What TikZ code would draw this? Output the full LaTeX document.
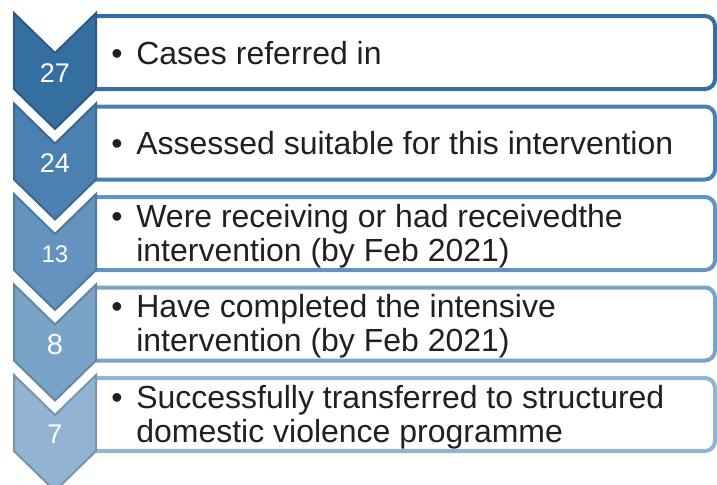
\documentclass[tikz,border=0pt]{standalone}
\usepackage{fontspec}
\setmainfont{Liberation Sans}
\definecolor{blueA}{RGB}{53,111,161}
\definecolor{blueB}{RGB}{74,129,176}
\definecolor{blueC}{RGB}{99,147,190}
\definecolor{blueD}{RGB}{122,163,200}
\definecolor{blueE}{RGB}{146,180,210}
\definecolor{textgray}{RGB}{35,31,32}
\tikzset{
  chevron/.style={fill=#1, draw=#1!82!black, line width=0.4mm, line join=miter},
  listbox/.style={fill=white, draw=#1, line width=0.8mm, rounded corners=2mm},
  itemtext/.style={anchor=base west, inner sep=0pt, align=left, text=textgray,
    font=\fontsize{18.2}{19.35}\selectfont},
  numtext/.style={anchor=base, inner sep=0pt, text=white,
    font=\fontsize{15.37}{18}\selectfont},
}
\newcommand{\bul}{\makebox[5mm][l]{•}}
\begin{document}
\begin{tikzpicture}[x=0.2mm,y=-0.2mm]
    \clip (0,0) rectangle (717,484);
    % boxes
    \draw [listbox=blueA] (95,16) -- (715,16) -- (715,89) -- (95,89);
    \draw [listbox=blueB] (95,106.5) -- (715,106.5) -- (715,179.5) -- (95,179.5);
    \draw [listbox=blueC] (95,197) -- (715,197) -- (715,270) -- (95,270);
    \draw [listbox=blueD] (95,287.5) -- (715,287.5) -- (715,360.5) -- (95,360.5);
    \draw [listbox=blueE] (95,378) -- (715,378) -- (715,451) -- (95,451);
    % chevrons
    \draw [chevron=blueA] (14,13) -- (55,53) -- (96,13) -- (96,89) -- (55,129) -- (14,89) -- cycle;
    \draw [chevron=blueB] (14,103.5) -- (55,143.5) -- (96,103.5) -- (96,179.5) -- (55,219.5) -- (14,179.5) -- cycle;
    \draw [chevron=blueC] (14,194) -- (55,234) -- (96,194) -- (96,270) -- (55,310) -- (14,270) -- cycle;
    \draw [chevron=blueD] (14,284.5) -- (55,324.5) -- (96,284.5) -- (96,360.5) -- (55,400.5) -- (14,360.5) -- cycle;
    \draw [chevron=blueE] (14,375) -- (55,415) -- (96,375) -- (96,451) -- (55,491) -- (14,451) -- cycle;
    % numbers
    \node [numtext] (n27) at (55,82) {27};
    \node [numtext] (n24) at (55,172.5) {24};
    \node [numtext, font=\fontsize{13.66}{16}\selectfont] (n13) at (55,262) {13};
    \node [numtext, font=\fontsize{16.5}{19}\selectfont] (n8) at (55,354) {8};
    \node [numtext] (n7) at (55,443) {7};
    % list texts (base = last line)
    \node [itemtext] (referred) at (111,64) {\bul Cases referred in};
    \node [itemtext] (assessed) at (111,154) {\bul Assessed suitable for this intervention};
    \node [itemtext] (receiving) at (111,261) {\bul Were receiving or had receivedthe\\\hspace*{5mm}intervention (by Feb 2021)};
    \node [itemtext] (completed) at (111,351.5) {\bul Have completed the intensive\\\hspace*{5mm}intervention (by Feb 2021)};
    \node [itemtext] (transferred) at (111,442) {\bul Successfully transferred to structured\\\hspace*{5mm}domestic violence programme};
\end{tikzpicture}
\end{document}
